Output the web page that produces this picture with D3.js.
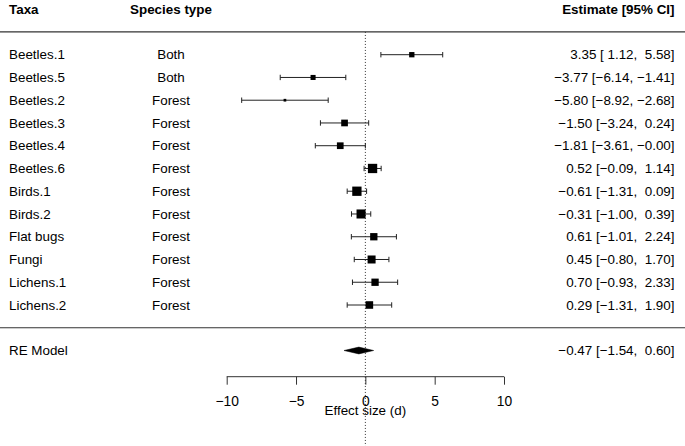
<!DOCTYPE html>
<html><head><meta charset="utf-8">
<script src="https://cdn.jsdelivr.net/npm/d3@7"></script>
<style>
html,body{margin:0;padding:0;background:#fff;}
svg text{font-family:"Liberation Sans",Arial,Helvetica,sans-serif;white-space:pre;}
</style></head>
<body>
<svg id="chart" width="685" height="446"></svg>
<script>
const taxa = ["Beetles.1","Beetles.5","Beetles.2","Beetles.3","Beetles.4","Beetles.6","Birds.1","Birds.2","Flat bugs","Fungi","Lichens.1","Lichens.2"];
const speciesType = ["Both","Both","Forest","Forest","Forest","Forest","Forest","Forest","Forest","Forest","Forest","Forest"];
const estimate = [3.35,-3.77,-5.80,-1.50,-1.81,0.52,-0.61,-0.31,0.61,0.45,0.70,0.29];
const lower    = [1.12,-6.14,-8.92,-3.24,-3.61,-0.09,-1.31,-1.00,-1.01,-0.80,-0.93,-1.31];
const upper    = [5.58,-1.41,-2.68,0.24,-0.00,1.14,0.09,0.39,2.24,1.70,2.33,1.90];
const weights  = [6.6,6.3,3.6,8.2,8.2,11.2,11.2,10.9,8.9,9.7,8.9,9.2];
const reModel = {label:"RE Model", estimate:-0.47, lower:-1.54, upper:0.60};
const xTicks = [-10,-5,0,5,10];
const headers = {taxa:"Taxa", species:"Species type", estimate:"Estimate [95% CI]"};
const xLabel = "Effect size (d)";

const svg = d3.select("#chart");
const k = taxa.length;
const FS = 13.4;

const x = d3.scaleLinear().domain([-10,10]).range([226.7,504]);
const y = d3.scaleLinear().domain([12,1]).range([54.7,305]);
const size = d3.scaleLinear().domain([d3.min(weights), d3.max(weights)]).range([2.7,9.3]);

const isNeg = v => v < 0 || (v === 0 && 1/v < 0);
const fmt = v => (isNeg(v) ? "\u2212" : "") + Math.abs(v).toFixed(2);
function fmtCI(e,l,u){
  const pad = v => isNeg(v) ? fmt(v) : " "+fmt(v);
  return fmt(e)+" ["+pad(l)+", "+pad(u)+"]";
}

const rows = taxa.map((t,i)=>({taxa:t, sp:speciesType[i], est:estimate[i], lb:lower[i], ub:upper[i], w:weights[i], row:k-i}));

// reference dotted line
svg.append("line").attr("x1",x(0)).attr("x2",x(0)).attr("y1",y(k+1)).attr("y2",446)
  .attr("stroke","#333").attr("stroke-width",1).attr("stroke-dasharray","1,2");

// horizontal rules
svg.append("line").attr("x1",0).attr("x2",685).attr("y1",y(k+1)).attr("y2",y(k+1)).attr("stroke","#333").attr("stroke-width",1.2);
svg.append("line").attr("x1",0).attr("x2",685).attr("y1",y(0)).attr("y2",y(0)).attr("stroke","#333").attr("stroke-width",1.2);

// headers
const hy = y(k+2);
svg.append("text").attr("x",9).attr("y",hy).attr("dy","0.35em").attr("font-size",FS).attr("font-weight","bold").text(headers.taxa);
svg.append("text").attr("x",171).attr("y",hy).attr("dy","0.35em").attr("text-anchor","middle").attr("font-size",FS).attr("font-weight","bold").text(headers.species);
svg.append("text").attr("x",674.5).attr("y",hy).attr("dy","0.35em").attr("text-anchor","end").attr("font-size",FS).attr("font-weight","bold").text(headers.estimate);

const g = svg.append("g").selectAll("g").data(rows).join("g");
g.append("text").attr("x",9).attr("y",d=>y(d.row)).attr("dy","0.35em").attr("font-size",FS).text(d=>d.taxa);
g.append("text").attr("x",171).attr("y",d=>y(d.row)).attr("dy","0.35em").attr("text-anchor","middle").attr("font-size",FS).text(d=>d.sp);
g.append("text").attr("x",674.5).attr("y",d=>y(d.row)).attr("dy","0.35em").attr("text-anchor","end").attr("font-size",FS).text(d=>fmtCI(d.est,d.lb,d.ub));
g.append("line").attr("x1",d=>x(d.lb)).attr("x2",d=>x(d.ub)).attr("y1",d=>y(d.row)).attr("y2",d=>y(d.row)).attr("stroke","#222").attr("stroke-width",1);
g.append("line").attr("x1",d=>x(d.lb)).attr("x2",d=>x(d.lb)).attr("y1",d=>y(d.row)-2.7).attr("y2",d=>y(d.row)+2.7).attr("stroke","#222").attr("stroke-width",1);
g.append("line").attr("x1",d=>x(d.ub)).attr("x2",d=>x(d.ub)).attr("y1",d=>y(d.row)-2.7).attr("y2",d=>y(d.row)+2.7).attr("stroke","#222").attr("stroke-width",1);
g.append("rect").attr("x",d=>x(d.est)-size(d.w)/2).attr("y",d=>y(d.row)-size(d.w)/2)
  .attr("width",d=>size(d.w)).attr("height",d=>size(d.w)).attr("fill","#000");

// RE model
const ry = y(-1);
svg.append("text").attr("x",9).attr("y",ry).attr("dy","0.35em").attr("font-size",FS).text(reModel.label);
svg.append("text").attr("x",674.5).attr("y",ry).attr("dy","0.35em").attr("text-anchor","end").attr("font-size",FS).text(fmtCI(reModel.estimate,reModel.lower,reModel.upper));
svg.append("polygon").attr("points",[[x(reModel.lower),ry],[x(reModel.estimate),ry-3.4],[x(reModel.upper),ry],[x(reModel.estimate),ry+3.4]].map(p=>p.join(",")).join(" "))
  .attr("fill","#000").attr("stroke","#000").attr("stroke-width",0.5);

// axis
const ay = 376.7;
const axis = d3.axisBottom(x).tickValues(xTicks).tickSize(8).tickSizeOuter(0).tickPadding(12)
  .tickFormat(v => v<0 ? "\u2212"+Math.abs(v) : String(v));
const ag = svg.append("g").attr("transform",`translate(0,${ay})`).call(axis);
ag.select(".domain").attr("stroke","#333").attr("d",`M${x(-10)},0H${x(10)}`);
ag.selectAll(".tick line").attr("stroke","#333");
ag.selectAll(".tick text").attr("font-size",13.8).attr("fill","#000").attr("font-family",'"Liberation Sans",Arial,sans-serif');

svg.append("text").attr("x",x(0)).attr("y",410.5).attr("dy","0.35em").attr("text-anchor","middle").attr("font-size",FS).text(xLabel);
</script>
</body></html>
